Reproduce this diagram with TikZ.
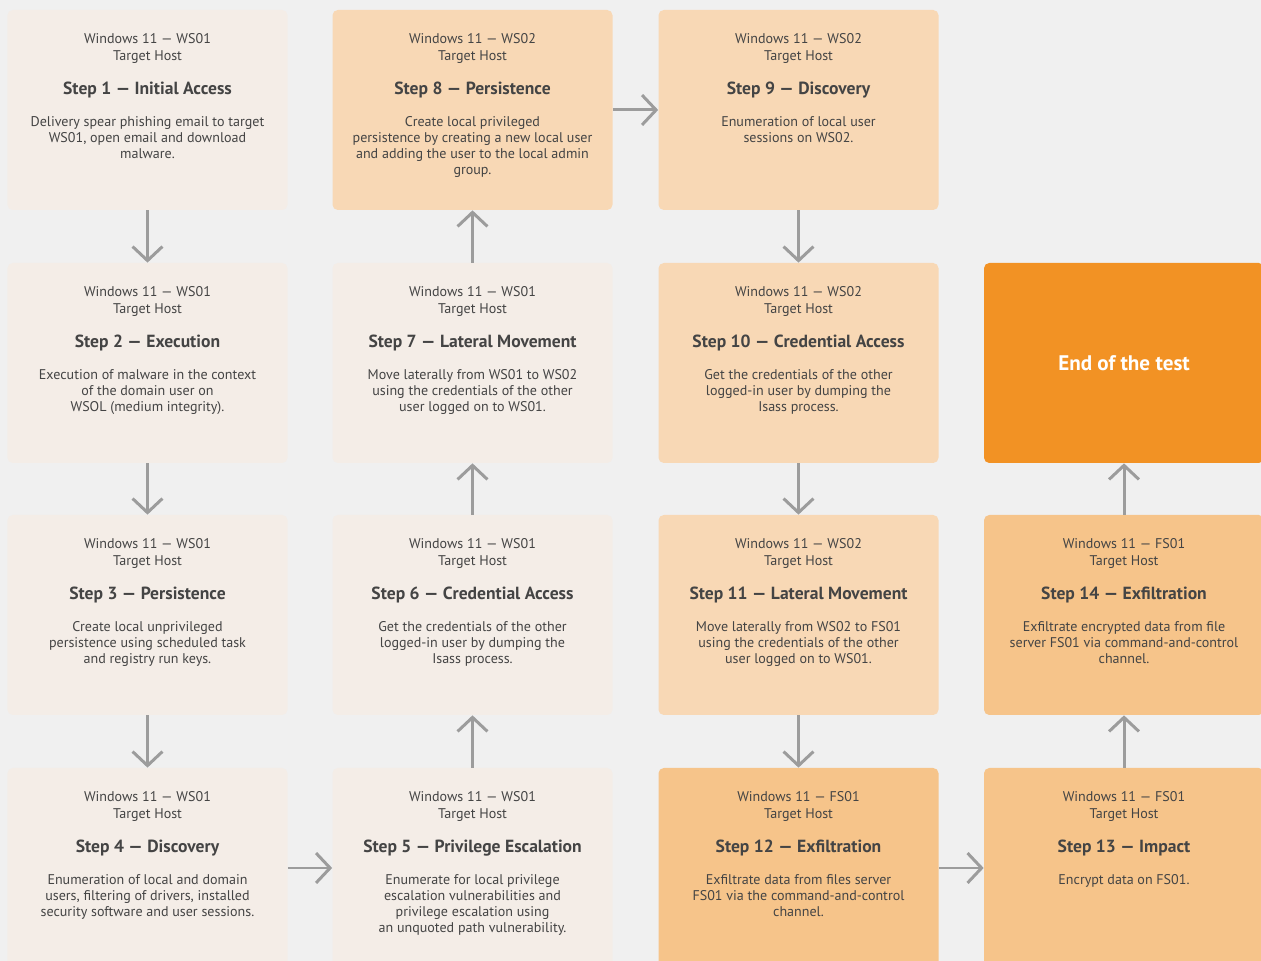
\documentclass[tikz,border=0pt]{standalone}
\usepackage{fontspec}
\setmainfont{PT Sans}
\usepackage{tikz}
\usetikzlibrary{arrows.meta}

\definecolor{bggray}{HTML}{F0F0F0}
\definecolor{boxlight}{HTML}{F4EDE7}
\definecolor{boxpeach}{HTML}{F8D8B5}
\definecolor{boxtan}{HTML}{F6C48A}
\definecolor{boxorange}{HTML}{F29224}
\definecolor{textgray}{HTML}{444444}
\definecolor{arrowgray}{HTML}{9C9C9C}

% host line, title and description of one step
\newcommand{\steptext}[3]{%
  \parbox[c][4cm][t]{5.6cm}{\centering\vspace*{0.47cm}%
    {\fontsize{8}{9.6}\selectfont #1\\Target Host\par}%
    \vspace{0.26cm}%
    {\fontsize{10}{12}\selectfont\bfseries #2\par}%
    \vspace{0.31cm}%
    {\fontsize{8}{9.2}\selectfont #3\par}}}

\begin{document}
\begin{tikzpicture}[
    stepbox/.style={rectangle, rounded corners=3pt, inner sep=0pt,
      minimum width=5.6cm, minimum height=4cm, text=textgray},
    flow/.style={draw=arrowgray, line width=1.7pt,
      -{Straight Barb[length=8pt, width=17pt]}}
  ]
    \fill[bggray] (0,0) rectangle (25.22,19.22);
    \useasboundingbox (0,0) rectangle (25.22,19.22);
    \clip (0,0) rectangle (25.22,19.22);

    % Nodes
    \node[stepbox, fill=boxlight] (s1) at (2.95,17.02)
      {\steptext{Windows 11 --- WS01}{Step 1 --- Initial Access}
        {Delivery spear phishing email to target\\WS01, open email and download\\malware.}};
    \node[stepbox, fill=boxlight] (s2) at (2.95,11.96)
      {\steptext{Windows 11 --- WS01}{Step 2 --- Execution}
        {Execution of malware in the context\\of the domain user on\\WSOL (medium integrity).}};
    \node[stepbox, fill=boxlight] (s3) at (2.95,6.92)
      {\steptext{Windows 11 --- WS01}{Step 3 --- Persistence}
        {Create local unprivileged\\persistence using scheduled task\\and registry run keys.}};
    \node[stepbox, fill=boxlight] (s4) at (2.95,1.86)
      {\steptext{Windows 11 --- WS01}{Step 4 --- Discovery}
        {Enumeration of local and domain\\users, filtering of drivers, installed\\security software and user sessions.}};

    \node[stepbox, fill=boxlight] (s5) at (9.45,1.86)
      {\steptext{Windows 11 --- WS01}{Step 5 --- Privilege Escalation}
        {Enumerate for local privilege\\escalation vulnerabilities and\\privilege escalation using\\an unquoted path vulnerability.}};
    \node[stepbox, fill=boxlight] (s6) at (9.45,6.92)
      {\steptext{Windows 11 --- WS01}{Step 6 --- Credential Access}
        {Get the credentials of the other\\logged-in user by dumping the\\Isass process.}};
    \node[stepbox, fill=boxlight] (s7) at (9.45,11.96)
      {\steptext{Windows 11 --- WS01}{Step 7 --- Lateral Movement}
        {Move laterally from WS01 to WS02\\using the credentials of the other\\user logged on to WS01.}};
    \node[stepbox, fill=boxpeach] (s8) at (9.45,17.02)
      {\steptext{Windows 11 --- WS02}{Step 8 --- Persistence}
        {Create local privileged\\persistence by creating a new local user\\and adding the user to the local admin\\group.}};

    \node[stepbox, fill=boxpeach] (s9) at (15.97,17.02)
      {\steptext{Windows 11 --- WS02}{Step 9 --- Discovery}
        {Enumeration of local user\\sessions on WS02.}};
    \node[stepbox, fill=boxpeach] (s10) at (15.97,11.96)
      {\steptext{Windows 11 --- WS02}{Step 10 --- Credential Access}
        {Get the credentials of the other\\logged-in user by dumping the\\Isass process.}};
    \node[stepbox, fill=boxpeach] (s11) at (15.97,6.92)
      {\steptext{Windows 11 --- WS02}{Step 11 --- Lateral Movement}
        {Move laterally from WS02 to FS01\\using the credentials of the other\\user logged on to WS01.}};
    \node[stepbox, fill=boxtan] (s12) at (15.97,1.86)
      {\steptext{Windows 11 --- FS01}{Step 12 --- Exfiltration}
        {Exfiltrate data from files server\\FS01 via the command-and-control\\channel.}};

    \node[stepbox, fill=boxtan] (s13) at (22.48,1.86)
      {\steptext{Windows 11 --- FS01}{Step 13 --- Impact}
        {Encrypt data on FS01.}};
    \node[stepbox, fill=boxtan] (s14) at (22.48,6.92)
      {\steptext{Windows 11 --- FS01}{Step 14 --- Exfiltration}
        {Exfiltrate encrypted data from file\\server FS01 via command-and-control\\channel.}};
    \node[stepbox, fill=boxorange, text=white,
      font=\fontsize{12}{14}\selectfont\bfseries] (end) at (22.48,11.96)
      {End of the test};

    % Arrows
    \draw[flow] (s1) -- (s2);
    \draw[flow] (s2) -- (s3);
    \draw[flow] (s3) -- (s4);
    \draw[flow] (s4) -- (s5);
    \draw[flow] (s5) -- (s6);
    \draw[flow] (s6) -- (s7);
    \draw[flow] (s7) -- (s8);
    \draw[flow] (s8) -- (s9);
    \draw[flow] (s9) -- (s10);
    \draw[flow] (s10) -- (s11);
    \draw[flow] (s11) -- (s12);
    \draw[flow] (s12) -- (s13);
    \draw[flow] (s13) -- (s14);
    \draw[flow] (s14) -- (end);
\end{tikzpicture}
\end{document}
